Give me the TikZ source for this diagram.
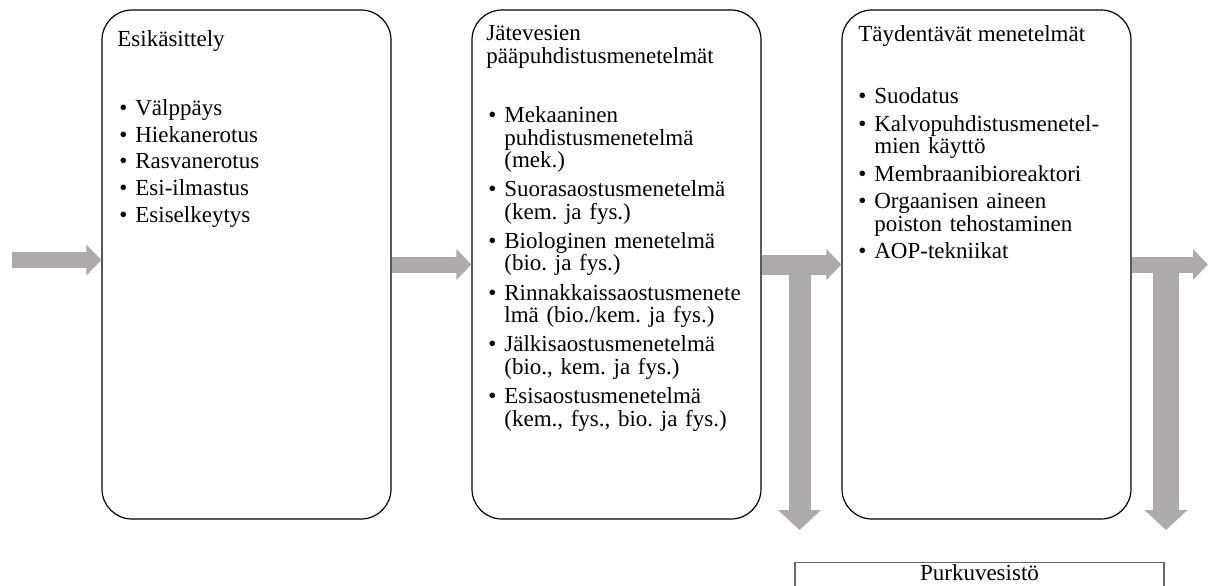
\documentclass[tikz,border=0pt]{standalone}
\usepackage{fontspec}
\setmainfont{Liberation Serif}
\usetikzlibrary{arrows.meta}
\definecolor{arrowgray}{RGB}{174,170,170}
\setlength{\lineskiplimit}{-20pt}
\frenchspacing
% one bullet item, hanging indent for the next lines
\newlength{\kohtavali}
\newcommand{\kohta}[1]{\par\hangindent=9pt\hangafter=1\noindent\makebox[9pt][l]{\hspace{1pt}\textbullet}#1\par\vspace{\kohtavali}}
\begin{document}
\begin{tikzpicture}[x=0.5pt,y=-0.5pt,font=\fontsize{11.5}{11.25}\selectfont]
	\def \boxwd{144.5pt}
	\def \boxht{254.5pt}
	\def \midrow{264.5}
	\def \arrowtop{266}
	\def \arrowend{530}
	\tikzstyle{stage}=[rectangle,rounded corners=15pt,draw=black,line width=0.6pt,minimum width=\boxwd,minimum height=\boxht,inner sep=0pt]
	\tikzstyle{title}=[anchor=base west,inner sep=0pt,align=left]
	\tikzstyle{items}=[anchor=base west,inner sep=0pt,text width=140pt,align=left]
	\tikzstyle{flow}=[draw=arrowgray,line width=8pt,-{Triangle[length=7.5pt,width=15pt]}]
	\tikzstyle{drain}=[draw=arrowgray,line width=11pt,-{Triangle[length=10pt,width=21pt]}]

	\clip (0,0) rectangle (1216,585);

	% stages
	\node[stage] 	(esi)	at (246.5,\midrow)	{};
	\node[stage] 	(paa)	at (616.5,\midrow)	{};
	\node[stage] 	(tay)	at (986.5,\midrow)	{};

	% headings
	\node[title] 	(esi-t)	at (117,46)	{Esikäsittely};
	\node[title] 	(paa-t)	at (486,63)	{Jätevesien\\pääpuhdistusmenetelmät};
	\node[title] 	(tay-t)	at (858,41)	{Täydentävät menetelmät};

	% methods
	\node[items] 	(esi-l)	at (117,93)	{\setlength{\kohtavali}{2.1pt}\kohta{Välppäys}\kohta{Hiekanerotus}\kohta{Rasvanerotus}\kohta{Esi-ilmastus}\kohta{Esiselkeytys}};
	\node[items] 	(paa-l)	at (486,100)	{\setlength{\kohtavali}{3.35pt}\kohta{Mekaaninen\newline puhdistusmenetelmä\newline (mek.)}\kohta{Suorasaostusmenetelmä\newline (kem. ja fys.)}\kohta{Biologinen menetelmä\newline (bio. ja fys.)}\kohta{Rinnakkaissaostusmenete\newline lmä (bio./kem. ja fys.)}\kohta{Jälkisaostusmenetelmä\newline (bio., kem. ja fys.)}\kohta{Esisaostusmenetelmä\newline (kem., fys., bio. ja fys.)}};
	\node[items] 	(tay-l)	at (856,81)	{\setlength{\kohtavali}{2.5pt}\kohta{Suodatus}\kohta{Kalvopuhdistusmenetel-\newline mien käyttö}\kohta{Membraanibioreaktori}\kohta{Orgaanisen aineen\newline poiston tehostaminen}\kohta{AOP-tekniikat}};

	% receiving water
	\node[draw=black!60,line width=0.6pt,minimum width=184.5pt,minimum height=30pt,anchor=north] 	(purku)	at (979.5,562)	{};
	\node[anchor=base] 	(purku-t)	at (979.5,580)	{Purkuvesistö};

	\coordinate (sisaan) at (12,260);
	\coordinate (ulos) at (1208,\midrow);
	\coordinate (lasku1) at (799.5,\arrowtop);
	\coordinate (pohja1) at (799.5,\arrowend);
	\coordinate (lasku2) at (1166,\arrowtop);
	\coordinate (pohja2) at (1166,\arrowend);

	\draw[drain] (lasku1) -- (pohja1);
	\draw[drain,line width=13pt] (lasku2) -- (pohja2);
	\draw[flow] (sisaan) -- (sisaan -| esi.west);
	\draw[flow] (esi.east) -- (paa.west);
	\draw[flow,line width=10pt] (paa.east) -- (tay.west);
	\draw[flow] (tay.east) -- (ulos);
\end{tikzpicture}
\end{document}
